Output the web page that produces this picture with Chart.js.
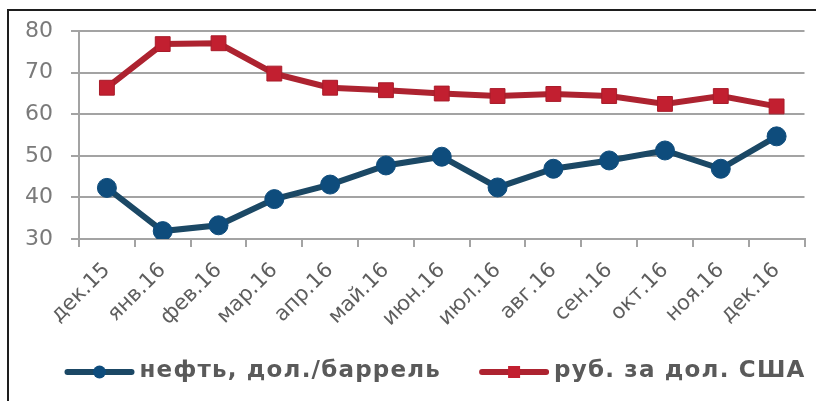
<!DOCTYPE html>
<html>
<head>
<meta charset="utf-8">
<script src="https://cdn.jsdelivr.net/npm/chart.js@4/dist/chart.umd.min.js"></script>
<style>
  html, body { margin: 0; padding: 0; background: #fff; }
  #wrap { position: relative; width: 816px; height: 401px; overflow: hidden; }
  #frame { position: absolute; left: 7px; top: 9px; width: 830px; height: 420px;
           border-left: 2px solid #1e1e1e; border-top: 2px solid #1e1e1e; pointer-events: none; }
  canvas { position: absolute; left: 0; top: 0; }
</style>
</head>
<body>
<div id="wrap">
  <canvas id="chart" width="816" height="401"></canvas>
  <div id="frame"></div>
</div>
<script>
// Months, Dec 2015 – Dec 2016
const months = ['дек.15', 'янв.16', 'фев.16', 'мар.16', 'апр.16', 'май.16', 'июн.16',
                'июл.16', 'авг.16', 'сен.16', 'окт.16', 'ноя.16', 'дек.16'];
// Brent, USD per barrel
const oilPrice = [42.3, 31.9, 33.3, 39.6, 43.1, 47.7, 49.8, 42.4, 46.9, 48.9, 51.3, 46.9, 54.7];
// Roubles per US dollar
const usdRate = [66.4, 76.9, 77.1, 69.8, 66.4, 65.8, 65.0, 64.4, 64.9, 64.4, 62.5, 64.4, 61.9];
const seriesNames = ['нефть, дол./баррель', 'руб. за дол. США'];
const yTicks = [30, 40, 50, 60, 70, 80];

const BLUE_LINE = '#1b4865', BLUE_PT = '#0e4c7c';
const RED_LINE = '#ad2330', RED_PT = '#c21f30';

// Legend row under the axis: thick line with the series marker, then the name.
// Laid out right-to-left from the right edge of the plot area.
const lineLegend = {
  id: 'lineLegend',
  afterDraw(chart, args, opts) {
    const ctx = chart.ctx;
    const y = opts.y;
    ctx.save();
    ctx.font = opts.font;
    ctx.letterSpacing = opts.letterSpacing;
    ctx.textBaseline = 'middle';
    ctx.textAlign = 'left';
    let xEnd = chart.chartArea.right + 1;
    const items = chart.data.datasets.map((ds, i) => ({ ds, w: ctx.measureText(ds.label).width }));
    for (let i = items.length - 1; i >= 0; i--) {
      const { ds, w } = items[i];
      const tx = xEnd - w;
      const sx1 = tx - opts.textGap, sx0 = sx1 - opts.swatchWidth;
      ctx.strokeStyle = ds.borderColor;
      ctx.lineWidth = 6;
      ctx.lineCap = 'round';
      ctx.beginPath(); ctx.moveTo(sx0 + 3, y); ctx.lineTo(sx1 - 3, y); ctx.stroke();
      ctx.fillStyle = ds.pointBackgroundColor;
      const cx = (sx0 + sx1) / 2;
      if (ds.pointStyle === 'rect') ctx.fillRect(cx - 6, y - 6, 12, 12);
      else { ctx.beginPath(); ctx.arc(cx, y, 6.5, 0, Math.PI * 2); ctx.fill(); }
      ctx.fillStyle = opts.color;
      ctx.fillText(ds.label, tx, y - 1);
      xEnd = sx0 - opts.itemGap;
    }
    ctx.restore();
  }
};

new Chart(document.getElementById('chart'), {
  type: 'line',
  data: {
    labels: months,
    datasets: [
      { label: seriesNames[0], data: oilPrice, borderColor: BLUE_LINE, borderWidth: 6,
        pointStyle: 'circle', pointRadius: 9.5, pointBackgroundColor: BLUE_PT,
        pointBorderColor: BLUE_PT, pointBorderWidth: 1, tension: 0 },
      { label: seriesNames[1], data: usdRate, borderColor: RED_LINE, borderWidth: 6,
        pointStyle: 'rect', pointRadius: 10.5, pointBackgroundColor: RED_PT,
        pointBorderColor: '#a81c2a', pointBorderWidth: 1, tension: 0 }
    ]
  },
  plugins: [lineLegend],
  options: {
    responsive: false,
    animation: false,
    layout: { padding: { left: 10, right: 11, top: 28, bottom: 72 } },
    plugins: {
      tooltip: { enabled: false },
      legend: { display: false },
      lineLegend: {
        y: 372, font: 'bold 23px "DejaVu Sans"', letterSpacing: '1.2px', color: '#5a5a5a',
        swatchWidth: 70, textGap: 5, itemGap: 38
      }
    },
    scales: {
      x: {
        offset: true,
        grid: { drawOnChartArea: false, drawTicks: true, tickLength: 8, offset: true,
                color: '#a3a3a3', lineWidth: 2 },
        border: { display: true, color: '#a3a3a3', width: 2 },
        ticks: { minRotation: 45, maxRotation: 45, autoSkip: false, padding: 11,
                 color: '#5e5e5e', font: { family: 'DejaVu Sans', size: 21 } },
        afterFit: (s) => { s.height = 90; }
      },
      y: {
        min: 30, max: 80,
        afterBuildTicks: (s) => { s.ticks = yTicks.map(v => ({ value: v })); },
        grid: { color: '#a3a3a3', lineWidth: 2, tickLength: 8 },
        border: { display: true, color: '#a3a3a3', width: 2 },
        ticks: { autoSkip: false, padding: 18, color: '#7a7a7a',
                 font: { family: 'DejaVu Sans', size: 22 } },
        afterFit: (s) => { s.width = 69; }
      }
    }
  }
});
</script>
</body>
</html>
